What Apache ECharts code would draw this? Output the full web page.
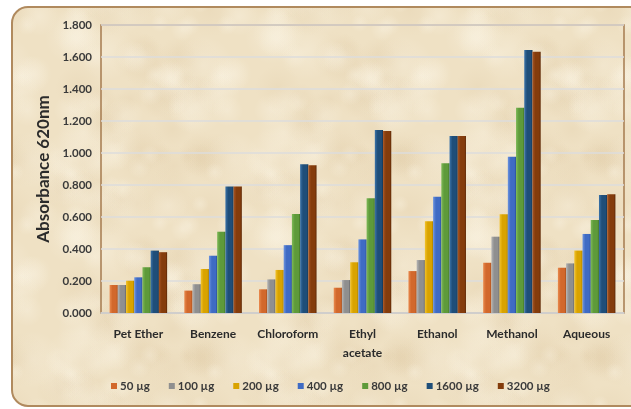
<!DOCTYPE html>
<html>
<head>
<meta charset="utf-8">
<script src="https://cdn.jsdelivr.net/npm/echarts@6/dist/echarts.min.js"></script>
<style>
  html, body { margin: 0; padding: 0; background: #ffffff; }
  #chart { width: 631px; height: 409px; }
</style>
</head>
<body>
<div id="chart"></div>
<script>
// Solvent extracts and absorbance readings at 620 nm per dose
const categories = ['Pet Ether', 'Benzene', 'Chloroform', 'Ethyl\nacetate', 'Ethanol', 'Methanol', 'Aqueous'];
const doses = ['50 µg', '100 µg', '200 µg', '400 µg', '800 µg', '1600 µg', '3200 µg'];

const dose50   = [0.175, 0.140, 0.148, 0.158, 0.262, 0.314, 0.283];
const dose100  = [0.175, 0.180, 0.210, 0.206, 0.331, 0.477, 0.310];
const dose200  = [0.202, 0.275, 0.269, 0.317, 0.573, 0.617, 0.390];
const dose400  = [0.223, 0.358, 0.424, 0.460, 0.727, 0.977, 0.494];
const dose800  = [0.286, 0.508, 0.619, 0.717, 0.936, 1.283, 0.581];
const dose1600 = [0.390, 0.790, 0.930, 1.144, 1.106, 1.644, 0.738];
const dose3200 = [0.380, 0.790, 0.923, 1.138, 1.106, 1.633, 0.742];

const yTicks = { min: 0, max: 1.8, interval: 0.2 };

// [light edge, base, dark edge] for each dose
const palette = [
  ['#E98A4E', '#D2682C', '#A64E1C'],
  ['#B4B4B4', '#8F8F8F', '#666666'],
  ['#F2C22A', '#D9A300', '#A87E00'],
  ['#6B93DF', '#3F6BC4', '#2A4E96'],
  ['#7DB957', '#5E9A3A', '#3F7225'],
  ['#3A72A8', '#1F4E79', '#133553'],
  ['#A85423', '#843C0C', '#5C2806']
];
const values = [dose50, dose100, dose200, dose400, dose800, dose1600, dose3200];

function barFill(c) {
  return new echarts.graphic.LinearGradient(0, 0, 1, 0, [
    { offset: 0, color: c[0] },
    { offset: 0.35, color: c[1] },
    { offset: 0.8, color: c[1] },
    { offset: 1, color: c[2] }
  ]);
}

// Parchment-like mottled texture for the chart card (seamless tile)
function parchment() {
  const N = 200;
  const cv = document.createElement('canvas');
  cv.width = N; cv.height = N;
  const ctx = cv.getContext('2d');
  ctx.fillStyle = '#EFE1C4';
  ctx.fillRect(0, 0, N, N);
  let s = 11;
  const next = () => { s = (s * 16807) % 2147483647; return s / 2147483647; };
  for (let i = 0; i < 90; i++) {
    const x = next() * N, y = next() * N, r = 8 + next() * 22;
    const light = next() > 0.45;
    const rgb = light ? '251,245,230' : '222,200,162';
    const a = light ? 0.35 : 0.22;
    for (const dx of [-N, 0, N]) {
      for (const dy of [-N, 0, N]) {
        const cx = x + dx, cy = y + dy;
        if (cx + r < 0 || cx - r > N || cy + r < 0 || cy - r > N) continue;
        const g = ctx.createRadialGradient(cx, cy, 0, cx, cy, r);
        g.addColorStop(0, 'rgba(' + rgb + ',' + a + ')');
        g.addColorStop(1, 'rgba(' + rgb + ',0)');
        ctx.fillStyle = g;
        ctx.fillRect(cx - r, cy - r, 2 * r, 2 * r);
      }
    }
  }
  return cv;
}

const series = doses.map((name, i) => ({
  name: name,
  type: 'bar',
  data: values[i],
  barGap: '0%',
  barCategoryGap: '23%',
  itemStyle: { color: barFill(palette[i]) }
}));

const chart = echarts.init(document.getElementById('chart'), null, { renderer: 'canvas' });

chart.setOption({
  animation: false,
  backgroundColor: '#ffffff',
  textStyle: { fontFamily: 'Lato, "Open Sans", sans-serif' },
  graphic: [{
    type: 'rect',
    z: -10,
    shape: { x: 12, y: 7, width: 640, height: 399, r: 16 },
    style: {
      fill: { image: parchment(), repeat: 'repeat' },
      stroke: '#B08A5E', lineWidth: 2
    }
  }],
  grid: {
    left: 101, top: 25, right: 7, bottom: 96,
    show: true,
    borderColor: '#A57B4F',
    borderWidth: 1.5,
    backgroundColor: 'transparent'
  },
  legend: {
    data: doses.map((d, i) => ({ name: d, itemStyle: { color: palette[i][1] } })),
    left: 106,
    top: 375,
    icon: 'rect',
    itemWidth: 6,
    itemHeight: 6,
    itemGap: 19,
    textStyle: { fontSize: 11.5, fontWeight: 'bold', color: '#3a3a3a', padding: [0, 0, 0, -2] }
  },
  xAxis: {
    type: 'category',
    data: categories,
    axisLine: { show: true, lineStyle: { color: '#CFCFCF', width: 1.5 } },
    axisTick: { show: false },
    axisLabel: { fontSize: 12, fontWeight: 'bold', color: '#2b2b2b', margin: 12, lineHeight: 19, interval: 0 }
  },
  yAxis: {
    type: 'value',
    min: yTicks.min,
    max: yTicks.max,
    interval: yTicks.interval,
    name: 'Absorbance 620nm',
    nameLocation: 'middle',
    nameGap: 48,
    nameTextStyle: { fontSize: 17, fontWeight: 'bold', color: '#2b2b2b' },
    axisLine: { show: false },
    axisTick: { show: false },
    axisLabel: {
      fontSize: 11.5, fontWeight: 'bold', color: '#3a3a3a', margin: 9,
      formatter: v => v.toFixed(3)
    },
    splitLine: { lineStyle: { color: '#DCDCDC', width: 1.5 } }
  },
  series: series
});
</script>
</body>
</html>
